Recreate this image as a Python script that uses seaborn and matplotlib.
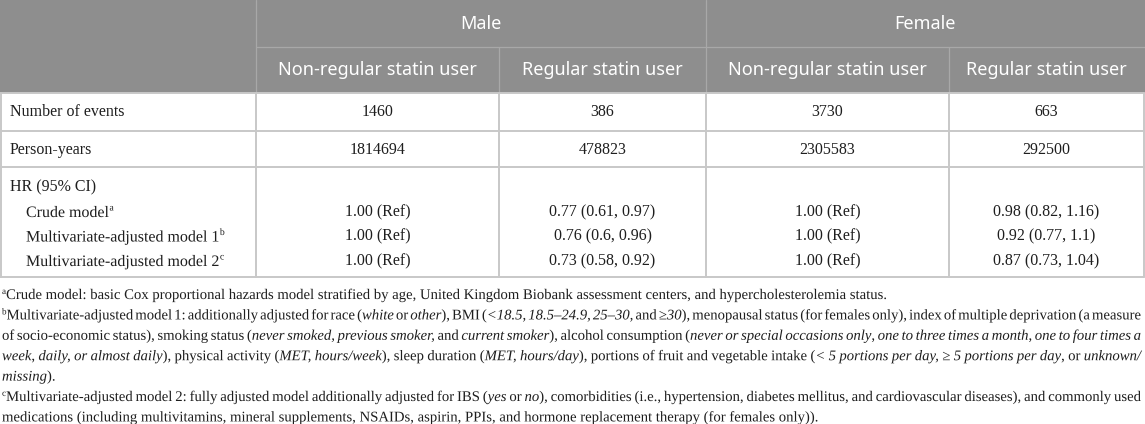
import re
import seaborn as sns
import matplotlib
matplotlib.use("Agg")
import matplotlib.pyplot as plt
import matplotlib.patheffects as pe
from matplotlib.font_manager import FontProperties
from matplotlib.textpath import TextToPath

# Table content
groups = ["Male", "Female"]
subgroups = ["Non-regular statin user", "Regular statin user"]
row_labels = ["Number of events", "Person-years", "HR (95% CI)"]
events = ["1460", "386", "3730", "663"]
person_years = ["1814694", "478823", "2305583", "292500"]
models = ["Crude model", "Multivariate-adjusted model 1", "Multivariate-adjusted model 2"]
model_marks = ["a", "b", "c"]
hr_non_regular = ["1.00 (Ref)", "1.00 (Ref)", "1.00 (Ref)"]
hr_male_regular = ["0.77 (0.61, 0.97)", "0.76 (0.6, 0.96)", "0.73 (0.58, 0.92)"]
hr_female_regular = ["0.98 (0.82, 1.16)", "0.92 (0.77, 1.1)", "0.87 (0.73, 1.04)"]

# footnotes: *italic*, ^superscript^ ; (text, justified)
footnotes = [
    ("^a^Crude model: basic Cox proportional hazards model stratified by age, United Kingdom Biobank assessment centers, and hypercholesterolemia status.", False),
    ("^b^Multivariate-adjusted model 1: additionally adjusted for race (*white* or *other*), BMI (*<18.5, 18.5–24.9, 25–30,* and *≥30*), menopausal status (for females only), index of multiple deprivation (a measure", True),
    ("of socio-economic status), smoking status (*never smoked, previous smoker,* and *current smoker*), alcohol consumption (*never or special occasions only*, *one to three times a month*, *one to four times a*", True),
    ("*week*, *daily, or almost daily*), physical activity (*MET, hours/week*), sleep duration (*MET, hours/day*), portions of fruit and vegetable intake (*< 5 portions per day, ≥ 5 portions per day*, or *unknown/*", True),
    ("*missing*).", False),
    ("^c^Multivariate-adjusted model 2: fully adjusted model additionally adjusted for IBS (*yes* or *no*), comorbidities (i.e., hypertension, diabetes mellitus, and cardiovascular diseases), and commonly used", True),
    ("medications (including multivitamins, mineral supplements, NSAIDs, aspirin, PPIs, and hormone replacement therapy (for females only)).", False),
]

sns.set_theme(style="white")
SERIF = ["Liberation Serif", "DejaVu Serif"]
SANS = ["Noto Sans", "DejaVu Sans"]
INK = "#1e1e1e"
# text drawn as outlines keeps word baselines aligned
SMOOTH = [pe.Normal()]
DPI = 100

W, H = 1145, 424
fig = plt.figure(figsize=(W / DPI, H / DPI), dpi=DPI)
ax = fig.add_axes([0, 0, 1, 1])
ax.set_xlim(0, W)
ax.set_ylim(H, 0)
ax.axis("off")

header_bg = "#8e8e8e"
header_line = "#a8a8a8"
grid = "#c8c8c8"

col_edges = [0.5, 256, 499, 706, 949, 1144]
row_edges = [0, 47, 93, 131, 167, 277]

# header band
ax.fill_between([0, W], 0, row_edges[2], color=header_bg, lw=0)
ax.plot([col_edges[1], W], [row_edges[1]] * 2, color=header_line, lw=0.9)
ax.plot([col_edges[1]] * 2, [0, row_edges[2]], color=header_line, lw=0.9)
ax.plot([col_edges[3]] * 2, [0, row_edges[2]], color=header_line, lw=0.9)
for xe in [col_edges[2], col_edges[4]]:
    ax.plot([xe, xe], [row_edges[1], row_edges[2]], color=header_line, lw=0.9)

# body grid
for ye in row_edges[2:]:
    ax.plot([0, col_edges[-1]], [ye, ye], color=grid, lw=1.4)
for xe in col_edges:
    ax.plot([xe, xe], [row_edges[2], row_edges[-1]], color=grid, lw=1.4)

# header text
for i, g in enumerate(groups):
    xc = (col_edges[1 + 2 * i] + col_edges[3 + 2 * i]) / 2
    ax.text(xc, 24, g, ha="center", va="center", color="white", fontsize=13, family=SANS)
    for j, s in enumerate(subgroups):
        k = 1 + 2 * i + j
        ax.text((col_edges[k] + col_edges[k + 1]) / 2, 70, s, ha="center", va="center",
                color="white", fontsize=13, family=SANS)

body_fs = 11.5
centers = [(col_edges[k] + col_edges[k + 1]) / 2 for k in range(1, 5)]

t2p = TextToPath()


def advance(t, size, style="normal"):
    # pen advance in pixels, from the same outlines used to draw the text
    prop = FontProperties(family=SERIF, size=size, style=style)
    w1 = t2p.get_text_width_height_descent("|" + t + "|", prop, ismath=False)[0]
    w0 = t2p.get_text_width_height_descent("||", prop, ismath=False)[0]
    return (w1 - w0) * DPI / 72


# row labels and values
for lab, y in zip(row_labels, [112, 150, 187]):
    ax.text(10, y, lab, va="center", fontsize=body_fs, family=SERIF, color=INK)
for xc, v in zip(centers, events):
    ax.text(xc, 112, v, ha="center", va="center", fontsize=body_fs, family=SERIF, color=INK)
for xc, v in zip(centers, person_years):
    ax.text(xc, 150, v, ha="center", va="center", fontsize=body_fs, family=SERIF, color=INK)

model_y = [212, 236.5, 261]
for m, mark, y, a, b, c in zip(models, model_marks, model_y, hr_non_regular, hr_male_regular, hr_female_regular):
    ax.text(26, y + 5, m, va="baseline", fontsize=body_fs, family=SERIF, color=INK, path_effects=SMOOTH)
    ax.text(26 + advance(m, body_fs) + 0.5, y - 1.5, mark, va="baseline", fontsize=7,
            family=SERIF, color=INK, path_effects=SMOOTH)
    for xc, v in zip(centers, [a, b, a, c]):
        ax.text(xc, y, v, ha="center", va="center", fontsize=body_fs, family=SERIF, color=INK)

# footnotes
fn_x0, fn_x1 = 2, 1141
fn_end_first = 887          # right end of the first footnote line in the reference
fn_base0, fn_step = 299, 20.4


def parse(line):
    pieces = []
    for tok in re.split(r"(\*[^*]*\*|\^[^^]*\^)", line):
        if not tok:
            continue
        if tok.startswith("*"):
            pieces.append((tok[1:-1], "italic"))
        elif tok.startswith("^"):
            pieces.append((tok[1:-1], "sup"))
        else:
            pieces.append((tok, "normal"))
    # split into words (lists of pieces)
    words, cur = [], []
    for t, st in pieces:
        parts = t.split(" ")
        for n, p in enumerate(parts):
            if n > 0:
                if cur:
                    words.append(cur)
                cur = []
            if p:
                cur.append((p, st))
    if cur:
        words.append(cur)
    return words


def piece_size(st, fs):
    return fs * 0.62 if st == "sup" else fs


def piece_adv(p, st, fs):
    return advance(p, piece_size(st, fs), "italic" if st == "italic" else "normal")


def natural_width(line, fs):
    words = parse(line)
    tot = sum(piece_adv(p, st, fs) for w in words for p, st in w)
    return tot + advance(" ", fs) * (len(words) - 1)


# pick the footnote size so the first line spans like the reference
fn_fs = 10 * (fn_end_first - fn_x0) / natural_width(footnotes[0][0], 10)

space_w = advance(" ", fn_fs)
for li, (line, justify) in enumerate(footnotes):
    yb = fn_base0 + li * fn_step
    words = parse(line)
    widths = [[piece_adv(p, st, fn_fs) for p, st in w] for w in words]
    total = sum(sum(w) for w in widths)
    if justify and len(words) > 1:
        gap = (fn_x1 - fn_x0 - total) / (len(words) - 1)
    else:
        gap = space_w
    x = fn_x0
    for w, ws in zip(words, widths):
        for (p, st), pw in zip(w, ws):
            dy = -5 if st == "sup" else 0
            ax.text(x, yb + dy, p, va="baseline", color=INK, path_effects=SMOOTH,
                    fontsize=piece_size(st, fn_fs), family=SERIF,
                    style="italic" if st == "italic" else "normal")
            x += pw
        x += gap

fig.savefig("out.png", dpi=DPI)
